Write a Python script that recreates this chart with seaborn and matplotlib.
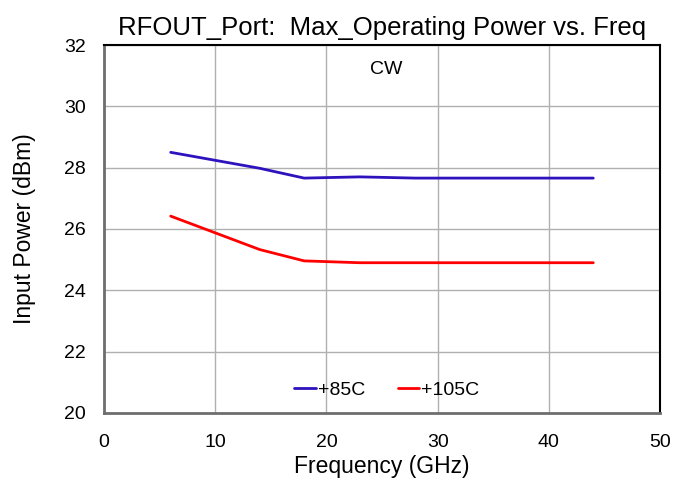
import numpy as np
import pandas as pd
import matplotlib
matplotlib.use("Agg")
import matplotlib.pyplot as plt
import seaborn as sns

freq_85 = [6, 14, 18, 23, 28, 44]
pwr_85 = [28.5, 27.98, 27.66, 27.7, 27.66, 27.66]
freq_105 = [6, 14, 18, 23, 28, 44]
pwr_105 = [26.42, 25.33, 24.96, 24.9, 24.9, 24.9]
series = ["+85C", "+105C"]
colors = ["#2e12bd", "#ff0000"]

df = pd.concat([
    pd.DataFrame({"freq": freq_85, "pwr": pwr_85, "temp": series[0]}),
    pd.DataFrame({"freq": freq_105, "pwr": pwr_105, "temp": series[1]}),
])

sns.set_style("white")
plt.rcParams['font.family'] = ['Liberation Sans', 'DejaVu Sans']
plt.rcParams['text.color'] = 'black'
plt.rcParams['axes.labelcolor'] = 'black'
plt.rcParams['xtick.color'] = 'black'
plt.rcParams['ytick.color'] = 'black'

fig = plt.figure(figsize=(6.73, 4.82), dpi=100)
ax = fig.add_axes([0.1545, 0.1432, 0.8262, 0.7634])

sns.lineplot(data=df, x="freq", y="pwr", hue="temp", palette=colors,
             hue_order=series, linewidth=2, ax=ax, sort=False)

ax.set_xlim(0, 50)
ax.set_ylim(20, 32)
ax.set_xticks(np.arange(0, 51, 10))
ax.set_yticks(np.arange(20, 33, 2))
ax.grid(True, color="#b0b0b0", linewidth=1)
for side in ["top", "right"]:
    ax.spines[side].set_color("black")
    ax.spines[side].set_linewidth(1.5)
for side in ["left", "bottom"]:
    ax.spines[side].set_color("#6e6e6e")
    ax.spines[side].set_linewidth(2)
ax.tick_params(axis="y", labelsize=14, length=0, pad=13)
ax.tick_params(axis="x", labelsize=14, length=0, pad=15)
ax.set_xlabel("Frequency (GHz)", fontsize=16.5, labelpad=3)
ax.set_ylabel("Input Power (dBm)", fontsize=16.5, labelpad=20)
ax.set_title("RFOUT_Port:  Max_Operating Power vs. Freq", fontsize=18.5, pad=7)
ax.text(25.4, 31.2, "CW", ha="center", va="center", fontsize=14)

ax.legend(loc="lower center", bbox_to_anchor=(0.509, -0.01), ncol=2, frameon=False,
          handlelength=1.1, handletextpad=0.1, columnspacing=1.7, fontsize=14)

fig.savefig("out.png", dpi=100)
